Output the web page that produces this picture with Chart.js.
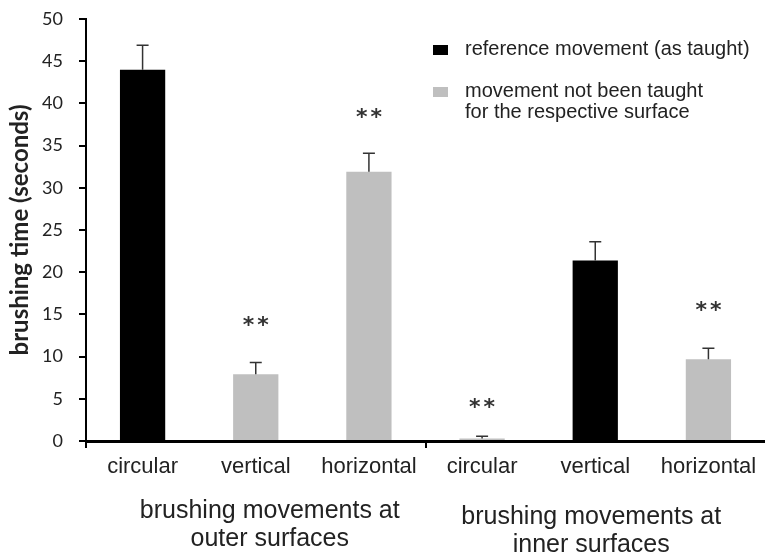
<!DOCTYPE html>
<html><head><meta charset="utf-8">
<script src="https://cdn.jsdelivr.net/npm/chart.js@4.4.1/dist/chart.umd.min.js"></script>
<style>html,body{margin:0;padding:0;background:#fff;overflow:hidden}</style>
</head><body>
<canvas id="c" width="765" height="555"></canvas>
<script>
// ---- data ----
const categories = ['circular', 'vertical', 'horizontal', 'circular', 'vertical', 'horizontal'];
const groupLabels = [['brushing movements at', 'outer surfaces'], ['brushing movements at', 'inner surfaces']];
const taughtValues = [44.0, null, null, null, 21.4, null];
const taughtErrors = [2.9, null, null, null, 2.2, null];
const notTaughtValues = [null, 7.9, 31.9, 0.3, null, 9.7];
const notTaughtErrors = [null, 1.4, 2.2, 0.25, null, 1.3];
const significance = [null, '**', '**', '**', null, '**'];
const significanceY = [null, 14.2, 38.8, 4.5, null, 16.0];
const yTicks = [0, 5, 10, 15, 20, 25, 30, 35, 40, 45, 50];
const seriesLabels = [['reference movement (as taught)'], ['movement not been taught', 'for the respective surface']];
const yTitle = 'brushing time (seconds)';

const TEXT = '#222';
const COLORS = ['#000000', '#bfbfbf'];

const errorBarPlugin = {
  id: 'errorBars',
  afterDatasetsDraw(chart) {
    const ctx = chart.ctx, y = chart.scales.y;
    const errs = [taughtErrors, notTaughtErrors];
    ctx.save();
    ctx.strokeStyle = '#333';
    ctx.lineWidth = 1.5;
    chart.data.datasets.forEach((ds, d) => {
      const meta = chart.getDatasetMeta(d);
      ds.data.forEach((v, i) => {
        if (v == null) return;
        const bar = meta.data[i];
        const top = y.getPixelForValue(v + errs[d][i]);
        ctx.beginPath();
        ctx.moveTo(bar.x, bar.y);
        ctx.lineTo(bar.x, top);
        ctx.moveTo(bar.x - 6, top);
        ctx.lineTo(bar.x + 6, top);
        ctx.stroke();
      });
    });
    // significance stars
    ctx.fillStyle = '#333';
    ctx.font = 'bold 22px "DejaVu Sans"';
    ctx.letterSpacing = '3px';
    ctx.textAlign = 'center';
    ctx.textBaseline = 'middle';
    const x = chart.scales.x;
    significance.forEach((s, i) => {
      if (!s) return;
      ctx.fillText(s, x.getPixelForValue(i) + 1.5, y.getPixelForValue(significanceY[i]) + 5);
    });
    ctx.restore();
  }
};

const extrasPlugin = {
  id: 'extras',
  afterDraw(chart) {
    const ctx = chart.ctx, x = chart.scales.x;
    ctx.save();
    // group labels
    ctx.fillStyle = TEXT;
    ctx.font = '25px "Liberation Sans"';
    ctx.textAlign = 'center';
    ctx.textBaseline = 'middle';
    const centers = [x.getPixelForValue(1) + 14, x.getPixelForValue(4) - 4];
    const yStart = [511, 517];
    groupLabels.forEach((lines, g) => {
      lines.forEach((t, k) => ctx.fillText(t, centers[g], yStart[g] + k * 28));
    });
    // legend
    ctx.font = '20px "Liberation Sans"';
    ctx.textAlign = 'left';
    const lx = 433, ly = [49, 91];
    seriesLabels.forEach((lines, d) => {
      ctx.fillStyle = COLORS[d];
      ctx.fillRect(lx, ly[d] - 4, 15, 10);
      ctx.fillStyle = TEXT;
      lines.forEach((t, k) => ctx.fillText(t, lx + 32, ly[d] + k * 21));
    });
    ctx.restore();
  }
};

new Chart(document.getElementById('c'), {
  type: 'bar',
  data: {
    labels: categories,
    datasets: [
      { label: seriesLabels[0].join(' '), data: taughtValues, backgroundColor: COLORS[0], borderWidth: 0 },
      { label: seriesLabels[1].join(' '), data: notTaughtValues, backgroundColor: COLORS[1], borderWidth: 0 }
    ]
  },
  options: {
    responsive: false,
    animation: false,
    skipNull: true,
    layout: { padding: { top: 19, left: 0, right: 0, bottom: 0 } },
    datasets: { bar: { categoryPercentage: 0.4, barPercentage: 1.0, skipNull: true } },
    plugins: { legend: { display: false }, tooltip: { enabled: false } },
    scales: {
      x: {
        offset: true,
        afterFit(s) { s.height = 114; s.paddingLeft = 0; s.paddingRight = 0; },
        border: { display: true, color: '#000', width: 3 },
        grid: {
          offset: true,
          drawOnChartArea: false,
          drawTicks: true,
          tickLength: 7,
          lineWidth: 2,
          color: (c) => (c.index === 0 || c.index === 3) ? '#000' : 'rgba(0,0,0,0)'
        },
        ticks: { color: TEXT, font: { family: 'Liberation Sans', size: 22 }, padding: 6, maxRotation: 0, autoSkip: false }
      },
      y: {
        min: 0, max: 50,
        afterFit(s) { s.width = 86; s.paddingTop = 0; s.paddingBottom = 0; },
        afterBuildTicks(s) { s.ticks = yTicks.map(v => ({ value: v })); },
        border: { display: true, color: '#000', width: 2 },
        grid: { drawOnChartArea: false, drawTicks: true, tickLength: 7, lineWidth: 2, color: '#000' },
        ticks: { color: TEXT, font: { family: 'Lato', size: 18 }, padding: 16 },
        title: { display: true, text: yTitle, color: TEXT, font: { family: 'Lato', size: 24, weight: 'bold' }, padding: { top: 6, bottom: 0 } }
      }
    }
  },
  plugins: [errorBarPlugin, extrasPlugin]
});
</script>
</body></html>
